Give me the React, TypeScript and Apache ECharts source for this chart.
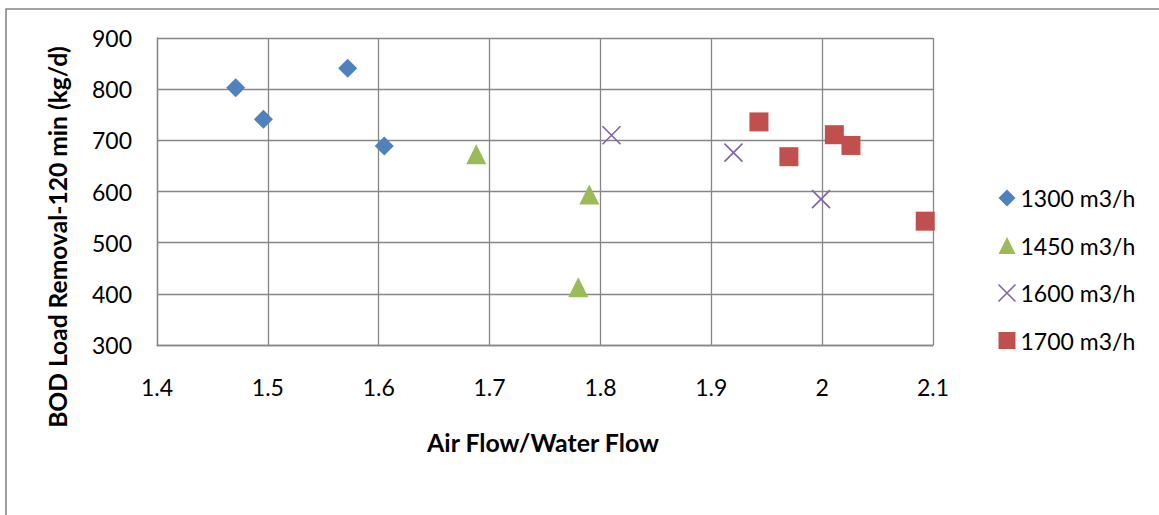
import React, { useEffect, useRef } from "react";
import * as echarts from "echarts";

// Air flow / water flow ratio vs. BOD load removal after 120 min, by water flow rate
const seriesNames = ["1300 m3/h", "1450 m3/h", "1600 m3/h", "1700 m3/h"];

const flow1300: [number, number][] = [
  [1.471, 803],
  [1.496, 741],
  [1.572, 841],
  [1.605, 689],
];
const flow1450: [number, number][] = [
  [1.688, 673],
  [1.79, 594],
  [1.78, 413],
];
const flow1600: [number, number][] = [
  [1.81, 710],
  [1.92, 676],
  [1.999, 585],
];
const flow1700: [number, number][] = [
  [1.943, 736],
  [1.97, 668],
  [2.011, 711],
  [2.026, 690],
  [2.093, 542],
];

const xTicks = { min: 1.4, max: 2.1, interval: 0.1 };
const yTicks = { min: 300, max: 900, interval: 100 };

const xTitle = "Air Flow/Water Flow";
const yTitle = "BOD Load Removal-120 min (kg/d)";

const COLORS = ["#4F81BD", "#9BBB59", "#8064A2", "#C0504D"];
const CROSS = "path://M0,0L10,10M10,0L0,10";
const GRID_COLOR = "#868686";
const FONT = "Lato, 'Open Sans', sans-serif";

export default function App() {
  const ref = useRef<HTMLDivElement>(null);

  useEffect(() => {
    if (!ref.current) return;
    const chart = echarts.init(ref.current, undefined, { renderer: "svg" });

    const markerSeries = (
      name: string,
      data: [number, number][],
      color: string,
      symbol: string,
      size: number
    ) => ({
      type: "scatter",
      name,
      data,
      symbol,
      symbolSize: size,
      itemStyle: { color, opacity: 1 },
      emphasis: { disabled: true },
    });

    chart.setOption({
      animation: false,
      backgroundColor: "#ffffff",
      textStyle: { fontFamily: FONT },
      grid: { left: 157, top: 38, width: 776, height: 307, containLabel: false },
      xAxis: {
        type: "value",
        min: xTicks.min,
        max: xTicks.max,
        interval: xTicks.interval,
        axisLine: { show: true, onZero: false, lineStyle: { color: GRID_COLOR, width: 1.3 } },
        axisTick: { show: false },
        splitLine: { show: true, lineStyle: { color: GRID_COLOR, width: 1.3 } },
        axisLabel: {
          margin: 30,
          color: "#000",
          fontSize: 23,
          fontFamily: FONT,
          formatter: (v: number) => String(parseFloat(v.toFixed(2))),
        },
      },
      yAxis: {
        type: "value",
        min: yTicks.min,
        max: yTicks.max,
        interval: yTicks.interval,
        axisLine: { show: true, lineStyle: { color: GRID_COLOR, width: 1.3 } },
        axisTick: { show: false },
        splitLine: { show: true, lineStyle: { color: GRID_COLOR, width: 1.3 } },
        axisLabel: { margin: 25, color: "#000", fontSize: 23, fontFamily: FONT },
      },
      legend: {
        orient: "vertical",
        left: 991,
        top: 180,
        itemWidth: 17,
        itemHeight: 17,
        itemGap: 21.5,
        selectedMode: false,
        textStyle: { color: "#000", fontSize: 23, lineHeight: 26, fontFamily: FONT },
        data: [
          { name: seriesNames[0], icon: "diamond", itemStyle: { color: COLORS[0] } },
          { name: seriesNames[1], icon: "triangle", itemStyle: { color: COLORS[1] } },
          {
            name: seriesNames[2],
            icon: CROSS,
            itemStyle: { color: "none", borderColor: COLORS[2], borderWidth: 1.6 },
          },
          { name: seriesNames[3], icon: "rect", itemStyle: { color: COLORS[3] } },
        ],
      },
      series: [
        markerSeries(seriesNames[0], flow1300, COLORS[0], "diamond", 19),
        markerSeries(seriesNames[1], flow1450, COLORS[1], "triangle", 20),
        {
          type: "scatter",
          name: seriesNames[2],
          data: flow1600,
          symbol: CROSS,
          symbolSize: 18,
          itemStyle: { color: "none", borderColor: COLORS[2], borderWidth: 1.6, opacity: 1 },
          emphasis: { disabled: true },
        },
        markerSeries(seriesNames[3], flow1700, COLORS[3], "rect", 19),
      ],
      graphic: [
        {
          type: "rect",
          silent: true,
          shape: { x: 6, y: 9, width: 1200, height: 600 },
          style: { fill: "none", stroke: "#878787", lineWidth: 1.6 },
          z: -1,
        },
        {
          type: "text",
          x: 57,
          y: 237,
          rotation: Math.PI / 2,
          style: {
            text: yTitle,
            align: "center",
            verticalAlign: "middle",
            fill: "#000",
            font: `bold 24.6px ${FONT}`,
          },
        },
        {
          type: "text",
          x: 543,
          y: 442,
          style: {
            text: xTitle,
            align: "center",
            verticalAlign: "middle",
            fill: "#000",
            font: `bold 24.9px ${FONT}`,
          },
        },
      ],
    });

    return () => chart.dispose();
  }, []);

  return (
    <div
      ref={ref}
      style={{ position: "absolute", left: 0, top: 0, width: 1159, height: 515 }}
    />
  );
}
